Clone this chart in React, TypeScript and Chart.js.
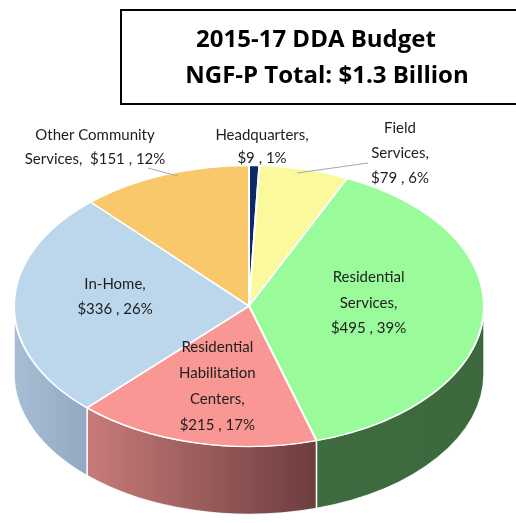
import React, { useEffect, useRef } from 'react';
import { Chart, registerables } from 'chart.js';

Chart.register(...registerables);

// ---- data ----
const categories = [
  'Headquarters',
  'Field Services',
  'Residential Services',
  'Residential Habilitation Centers',
  'In-Home',
  'Other Community Services',
];
const amounts = [9, 79, 495, 215, 336, 151]; // $ millions
const percents = [1, 6, 39, 17, 26, 12];
const titleLines = ['2015-17 DDA Budget', 'NGF-P Total: $1.3 Billion'];

// ---- styles ----
const topColors = ['#0C2A66', '#FAF99B', '#99FB99', '#F99795', '#BCD6EC', '#F8C86B'];
const wallLight = ['#0A2255', '#C8C77C', '#3E6C40', '#C97B7A', '#A8BED5', '#C6A055'];
const wallDark = ['#0A2255', '#C8C77C', '#3B683D', '#6C3D3E', '#92A9C1', '#C6A055'];

// words per line for each category name; whether value is appended to last name line
const nameWordsPerLine = [[1], [1, 1], [1, 1], [1, 1, 1], [1], [2, 1]];
const valueOnLastLine = [false, false, false, false, false, true];

const CENTER_Y = 306; // screen centre of top face ellipse
const TILT = 141 / 236; // vertical squash
const DEPTH = 68; // side wall height

// label placement (style/positions)
const insideLabel: Record<number, { f: number; dy: number; gap: number }> = {
  2: { f: 0.51, dy: -8, gap: 25.5 },
  3: { f: 0.58, dy: 1, gap: 26 },
  4: { f: 0.57, dy: -8, gap: 25 },
};
const outsideLabel: Record<number, { x: number; y: number; gap: number; line?: number[] }> = {
  0: { x: 262, y: 135, gap: 23 },
  1: { x: 400, y: 128, gap: 25, line: [297, 173, 368, 163] },
  5: { x: 95, y: 135, gap: 24, line: [178, 176, 148, 168] },
};

function buildLines(i: number): string[] {
  const words = categories[i].split(' ');
  const lines: string[] = [];
  let k = 0;
  for (const n of nameWordsPerLine[i]) {
    lines.push(words.slice(k, k + n).join(' '));
    k += n;
  }
  lines[lines.length - 1] += ',';
  const val = `$${amounts[i]} , ${percents[i]}%`;
  if (valueOnLastLine[i]) lines[lines.length - 1] += '  ' + val;
  else lines.push(val);
  return lines;
}

const pie3d = {
  id: 'pie3d',
  beforeDatasetsDraw(chart: any) {
    const ctx: CanvasRenderingContext2D = chart.ctx;
    const arcs = chart.getDatasetMeta(0).data as any[];
    if (!arcs.length) return;
    const cx = arcs[0].x;
    const R = arcs[0].outerRadius;
    const ry = R * TILT;
    // side walls
    arcs.forEach((arc: any, i: number) => {
      const s = Math.max(arc.startAngle, 0);
      const e = Math.min(arc.endAngle, Math.PI);
      if (e <= s) return;
      ctx.save();
      ctx.beginPath();
      ctx.ellipse(cx, CENTER_Y, R, ry, 0, s, e, false);
      ctx.ellipse(cx, CENTER_Y + DEPTH, R, ry, 0, e, s, true);
      ctx.closePath();
      const xl = cx + R * Math.cos(e);
      const xr = cx + R * Math.cos(s);
      const g = ctx.createLinearGradient(xl, 0, xr, 0);
      g.addColorStop(0, wallLight[i]);
      g.addColorStop(1, wallDark[i]);
      ctx.fillStyle = g;
      ctx.fill();
      ctx.strokeStyle = 'rgba(255,255,255,0.9)';
      ctx.lineWidth = 1.5;
      ctx.stroke();
      ctx.restore();
    });
    ctx.save();
    ctx.translate(0, CENTER_Y);
    ctx.scale(1, TILT);
    ctx.translate(0, -arcs[0].y);
  },
  afterDatasetsDraw(chart: any) {
    const ctx: CanvasRenderingContext2D = chart.ctx;
    ctx.restore();
    const arcs = chart.getDatasetMeta(0).data as any[];
    if (!arcs.length) return;
    const cx = arcs[0].x;
    const R = arcs[0].outerRadius;
    const ry = R * TILT;
    ctx.save();
    ctx.font = '15px Lato';
    ctx.fillStyle = '#1E1E1E';
    ctx.textAlign = 'center';
    ctx.textBaseline = 'middle';
    arcs.forEach((arc: any, i: number) => {
      const lines = buildLines(i);
      if (insideLabel[i]) {
        const p = insideLabel[i];
        const mid = (arc.startAngle + arc.endAngle) / 2;
        const x = cx + p.f * R * Math.cos(mid);
        const y = CENTER_Y + p.f * ry * Math.sin(mid) + p.dy;
        const y0 = y - ((lines.length - 1) * p.gap) / 2;
        lines.forEach((t, j) => ctx.fillText(t, x, y0 + j * p.gap));
      } else if (outsideLabel[i]) {
        const p = outsideLabel[i];
        lines.forEach((t, j) => ctx.fillText(t, p.x, p.y + j * p.gap));
        if (p.line) {
          ctx.beginPath();
          ctx.moveTo(p.line[0], p.line[1]);
          ctx.lineTo(p.line[2], p.line[3]);
          ctx.strokeStyle = '#A6A6A6';
          ctx.lineWidth = 1;
          ctx.stroke();
        }
      }
    });
    ctx.restore();
  },
  afterDraw(chart: any) {
    const ctx: CanvasRenderingContext2D = chart.ctx;
    ctx.save();
    ctx.fillStyle = '#ffffff';
    ctx.fillRect(121, 10, 420, 94);
    ctx.strokeStyle = '#000000';
    ctx.lineWidth = 2;
    ctx.strokeRect(121, 10, 420, 94);
    ctx.fillStyle = '#000000';
    ctx.font = 'bold 24px "Open Sans"';
    ctx.textAlign = 'center';
    ctx.textBaseline = 'middle';
    ctx.fillText(titleLines[0], 316, 40);
    ctx.fillText(titleLines[1], 327, 76);
    ctx.restore();
  },
};

export default function App() {
  const ref = useRef<HTMLCanvasElement | null>(null);
  useEffect(() => {
    document.body.style.margin = '0';
    if (!ref.current) return;
    const chart = new Chart(ref.current, {
      type: 'pie',
      data: {
        labels: categories,
        datasets: [
          {
            data: amounts,
            backgroundColor: topColors,
            borderColor: '#ffffff',
            borderWidth: 2,
            clip: false as any,
          },
        ],
      },
      options: {
        responsive: false,
        maintainAspectRatio: false,
        devicePixelRatio: 1,
        animation: false,
        layout: { padding: { left: 13, right: 31, top: 25, bottom: 26 } },
        plugins: {
          legend: { display: false },
          tooltip: { enabled: false },
          title: { display: false },
        },
      },
      plugins: [pie3d],
    });
    return () => chart.destroy();
  }, []);
  return (
    <div style={{ width: 516, height: 523 }}>
      <canvas ref={ref} width={516} height={523} style={{ display: 'block' }} />
    </div>
  );
}
